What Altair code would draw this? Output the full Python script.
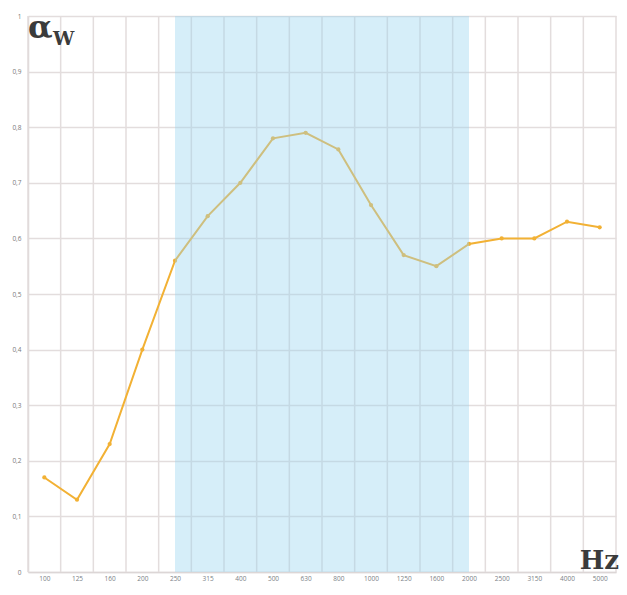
import altair as alt
import pandas as pd

freqs = ["100", "125", "160", "200", "250", "315", "400", "500", "630",
         "800", "1000", "1250", "1600", "2000", "2500", "3150", "4000", "5000"]
alpha = [0.17, 0.13, 0.23, 0.40, 0.56, 0.64, 0.70, 0.78, 0.79,
         0.76, 0.66, 0.57, 0.55, 0.59, 0.60, 0.60, 0.63, 0.62]
band_start = "250"
band_end = "2000"
y_ticks = [0, 0.1, 0.2, 0.3, 0.4, 0.5, 0.6, 0.7, 0.8, 0.9, 1.0]

W, H = 588, 556

idx = list(range(len(freqs)))
df = pd.DataFrame({"i": idx, "f": freqs, "a": alpha})
grid_df = pd.DataFrame({"g": [k - 0.5 for k in range(len(freqs) + 1)]})
band_df = pd.DataFrame({"s": [freqs.index(band_start)], "e": [freqs.index(band_end)]})

label_expr = "[" + ",".join("'%s'" % f for f in freqs) + "][datum.value]"

xscale = alt.Scale(domain=[-0.5, len(freqs) - 0.5], nice=False, zero=False)
yscale = alt.Scale(domain=[0, 1], nice=False)

xaxis = alt.Axis(values=idx, labelExpr=label_expr, grid=False, ticks=False,
                 domain=True, domainColor="#dcd6d6", domainWidth=1.5,
                 labelFontSize=6.5, labelColor="#7a7f86", labelPadding=3,
                 labelOverlap=False, labelBound=False, labelFont="Open Sans", title=None)
yaxis = alt.Axis(values=y_ticks, labelExpr="replace(format(datum.value, '.1~f'), '.', ',')",
                 grid=True, gridColor="#e3dddd", gridWidth=1.5, ticks=False,
                 domain=True, domainColor="#dcd6d6", domainWidth=1.5,
                 labelFontSize=6.5, labelColor="#7a7a7a", labelPadding=7,
                 labelOverlap=False, labelFont="Open Sans", title=None)

vgrid = alt.Chart(grid_df).mark_rule(color="#e3dddd", strokeWidth=1.5).encode(
    x=alt.X("g:Q", scale=xscale, axis=xaxis),
    y=alt.value(0), y2=alt.value(H)
)

line = alt.Chart(df).mark_line(color="#f2b134", strokeWidth=2).encode(
    x=alt.X("i:Q", scale=xscale, axis=xaxis),
    y=alt.Y("a:Q", scale=yscale, axis=yaxis)
)
pts = alt.Chart(df).mark_circle(color="#f2b134", size=18, opacity=1).encode(
    x=alt.X("i:Q", scale=xscale, axis=xaxis),
    y=alt.Y("a:Q", scale=yscale, axis=yaxis)
)

band = alt.Chart(band_df).mark_rect(color="#99d5f0", opacity=0.4).encode(
    x=alt.X("s:Q", scale=xscale, axis=xaxis),
    x2="e:Q",
    y=alt.value(0), y2=alt.value(H)
)

alpha_txt = alt.Chart(pd.DataFrame({"t": ["α"]})).mark_text(
    font="DejaVu Serif", fontSize=32, fontWeight="bold", color="#3b3b3b",
    align="left", baseline="alphabetic"
).encode(text="t:N", x=alt.value(0), y=alt.value(22))
w_txt = alt.Chart(pd.DataFrame({"t": ["W"]})).mark_text(
    font="DejaVu Serif", fontSize=19, fontWeight="bold", color="#3b3b3b",
    align="left", baseline="alphabetic"
).encode(text="t:N", x=alt.value(25), y=alt.value(29))
hz_txt = alt.Chart(pd.DataFrame({"t": ["Hz"]})).mark_text(
    font="DejaVu Serif", fontSize=26, fontWeight="bold", color="#3b3b3b",
    align="right", baseline="alphabetic"
).encode(text="t:N", x=alt.value(W + 3), y=alt.value(H - 3))

chart = alt.layer(vgrid, line, pts, band, alpha_txt, w_txt, hz_txt).properties(
    width=W, height=H,
    autosize=alt.AutoSizeParams(type="none"),
    padding={"left": 20, "top": 8, "right": 3, "bottom": 11},
    background="white"
).configure_view(stroke=None).configure_axis(labelOverlap=False)

chart.save("out.html", embed_options={"renderer": "svg", "actions": False})
